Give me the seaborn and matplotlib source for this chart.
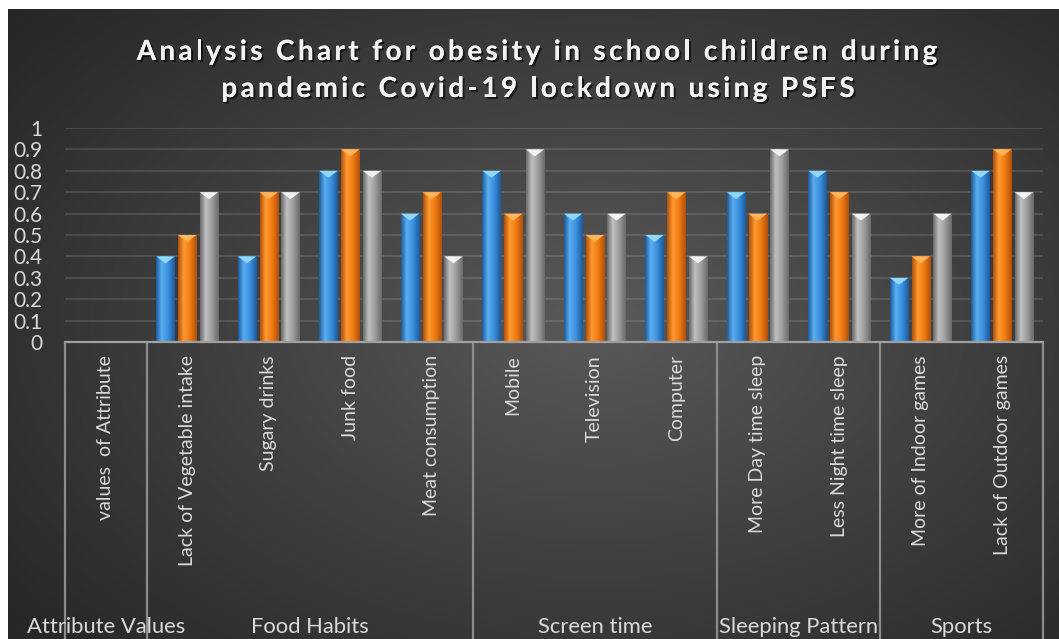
import numpy as np
import pandas as pd
import matplotlib
matplotlib.use("Agg")
import matplotlib.pyplot as plt
import matplotlib.patheffects as pe
from matplotlib.colors import LinearSegmentedColormap, to_rgba
from matplotlib.patches import Polygon
from matplotlib.font_manager import FontProperties
import matplotlib.transforms as mtransforms
import seaborn as sns

# ---- data ----
attributes = ["values  of Attribute", "Lack of Vegetable intake", "Sugary drinks", "Junk food",
              "Meat consumption", "Mobile", "Television", "Computer",
              "More Day time sleep", "Less Night time sleep",
              "More of Indoor games", "Lack of Outdoor games"]
series_names = ["Series1", "Series2", "Series3"]
series1 = [np.nan, 0.4, 0.4, 0.8, 0.6, 0.8, 0.6, 0.5, 0.7, 0.8, 0.3, 0.8]
series2 = [np.nan, 0.5, 0.7, 0.9, 0.7, 0.6, 0.5, 0.7, 0.6, 0.7, 0.4, 0.9]
series3 = [np.nan, 0.7, 0.7, 0.8, 0.4, 0.9, 0.6, 0.4, 0.9, 0.6, 0.6, 0.7]
groups = ["Attribute Values", "Food Habits", "Screen time", "Sleeping Pattern", "Sports"]
group_sizes = [1, 4, 3, 2, 2]
yticks = [0, 0.1, 0.2, 0.3, 0.4, 0.5, 0.6, 0.7, 0.8, 0.9, 1]
title_lines = ["Analysis Chart for obesity in school children during",
               "pandemic Covid-19 lockdown using PSFS"]

df = pd.DataFrame({
    "attribute": attributes * 3,
    "series": sum([[s] * len(attributes) for s in series_names], []),
    "value": series1 + series2 + series3,
})

# colour sets per series: (dark edge, highlight, body, bevel top)
shades = [
    ("#1d5a9c", "#5aaef0", "#3a8edc", "#8fd8f8"),
    ("#b0500a", "#ff9a30", "#f07a12", "#ffb55c"),
    ("#6a6a6a", "#c0c0c0", "#9c9c9c", "#f2f2f2"),
]

sns.set_theme(style="white")
plt.rcParams["font.family"] = ["Lato", "DejaVu Sans"]
txt_col = "#d9d9d9"

W, H = 1059, 639
fig = plt.figure(figsize=(W / 100, H / 100), dpi=100, facecolor="white")

# dark radial background panel
bg = fig.add_axes([8 / W, 0, 1 - 8 / W, 1 - 9 / H], zorder=-5)
yy, xx = np.mgrid[0:1:300j, 0:1:500j]
r = np.sqrt(((xx - 0.56) / 0.75) ** 2 + ((yy - 0.5) / 0.8) ** 2)
r = np.clip(r, 0, 1)
bg_cmap = LinearSegmentedColormap.from_list("bg", ["#595959", "#3f3f3f", "#262626"])
bg.imshow(r, cmap=bg_cmap, aspect="auto", extent=[0, 1, 0, 1], origin="lower")
bg.set_axis_off()

ax = fig.add_axes([65 / W, 1 - 342 / H, (1043 - 65) / W, (342 - 128) / H])
ax.patch.set_alpha(0)

palette = [s[2] for s in shades]
sns.barplot(data=df, x="attribute", y="value", hue="series", order=attributes,
            hue_order=series_names, palette=palette,
            width=0.8, gap=0.15, legend=False, ax=ax, zorder=3, linewidth=0,
            err_kws={"linewidth": 0})

ax.set_xlim(-0.5, len(attributes) - 0.5)
ax.set_ylim(0, 1)
ax.set_yticks(yticks)
ax.set_yticklabels([f"{v:g}" for v in yticks], color=txt_col, fontsize=15)
ax.tick_params(axis="y", length=0, pad=16.5)
ax.set_xticks([])
ax.set_xlabel("")
ax.set_ylabel("")
for s in ax.spines.values():
    s.set_visible(False)
for v in yticks[1:]:
    ax.axhline(v, color="#ffffff", alpha=0.13, lw=1.3, zorder=1)
ax.axhline(0, color="#a0a0a0", lw=1.6, zorder=4, clip_on=False)

# shaded bars with bevelled tops
bevel = 7 / 214
pal_rgba = [np.array(to_rgba(c)) for c in palette]
for p in list(ax.patches):
    h = p.get_height()
    if not np.isfinite(h) or h <= 0:
        continue
    fc = np.array(p.get_facecolor())
    k = int(np.argmin([np.abs(fc[:3] - c[:3]).sum() for c in pal_rgba]))
    dark, light, body, top = shades[k]
    x0, w = p.get_x(), p.get_width()
    cmap = LinearSegmentedColormap.from_list(
        "bar", [(0, dark), (0.3, light), (0.65, body), (1, dark)])
    grad = np.linspace(0, 1, 64)[None, :]
    im = ax.imshow(grad, cmap=cmap, aspect="auto", extent=[x0, x0 + w, 0, h],
                   zorder=3.5, interpolation="bilinear")
    im.set_clip_path(p)
    ax.add_patch(Polygon([[x0, h], [x0 + w, h], [x0 + w / 2, h - bevel]],
                         closed=True, facecolor=top, edgecolor="none", zorder=3.8))

ax.set_xlim(-0.5, len(attributes) - 0.5)
ax.set_ylim(0, 1)

# category labels under the axis
tr = mtransforms.blended_transform_factory(ax.transData, ax.transAxes)
for i, name in enumerate(attributes):
    ax.text(i, -13 / 214, name, rotation=90, ha="center", va="top",
            color=txt_col, fontsize=14, transform=tr, clip_on=False)

# group separators and group labels
trf = mtransforms.blended_transform_factory(ax.transData, fig.transFigure)
edges = np.concatenate([[0], np.cumsum(group_sizes)]) - 0.5
for e in edges:
    ax.plot([e, e], [0, -1.45], color="#8c8c8c", lw=1.6, transform=tr,
            clip_on=False, zorder=2)
for g, a, b in zip(groups, edges[:-1], edges[1:]):
    ax.text((a + b) / 2, 1 - 633 / H, g, ha="center", va="baseline",
            color=txt_col, fontsize=15.8, transform=trf, clip_on=False)

# title drawn with letter tracking
renderer = fig.canvas.get_renderer()
tfont = FontProperties(family=["Lato", "DejaVu Sans"], weight="bold", size=20)


def text_width(s):
    w, _, _ = renderer.get_text_width_height_descent(s, tfont, ismath=False)
    return w


def tracked_line(s, cx, baseline, tracking):
    ref = text_width("l")
    offs = [text_width(s[:i] + "l") - ref for i in range(len(s))]
    total = text_width(s) + tracking * (len(s) - 1)
    left = cx - total / 2
    for i, ch in enumerate(s):
        if ch == " ":
            continue
        fig.text((left + offs[i] + tracking * i) / W, 1 - baseline / H, ch,
                 ha="left", va="baseline", color="#f2f2f2", fontproperties=tfont,
                 path_effects=[pe.withSimplePatchShadow(offset=(1.5, -1.5),
                                                        shadow_rgbFace="black", alpha=0.6),
                               pe.Normal()])


tracked_line(title_lines[0], 537, 60, 3.4)
tracked_line(title_lines[1], 538, 97, 3.4)

fig.savefig("out.png", dpi=100, facecolor="white")
